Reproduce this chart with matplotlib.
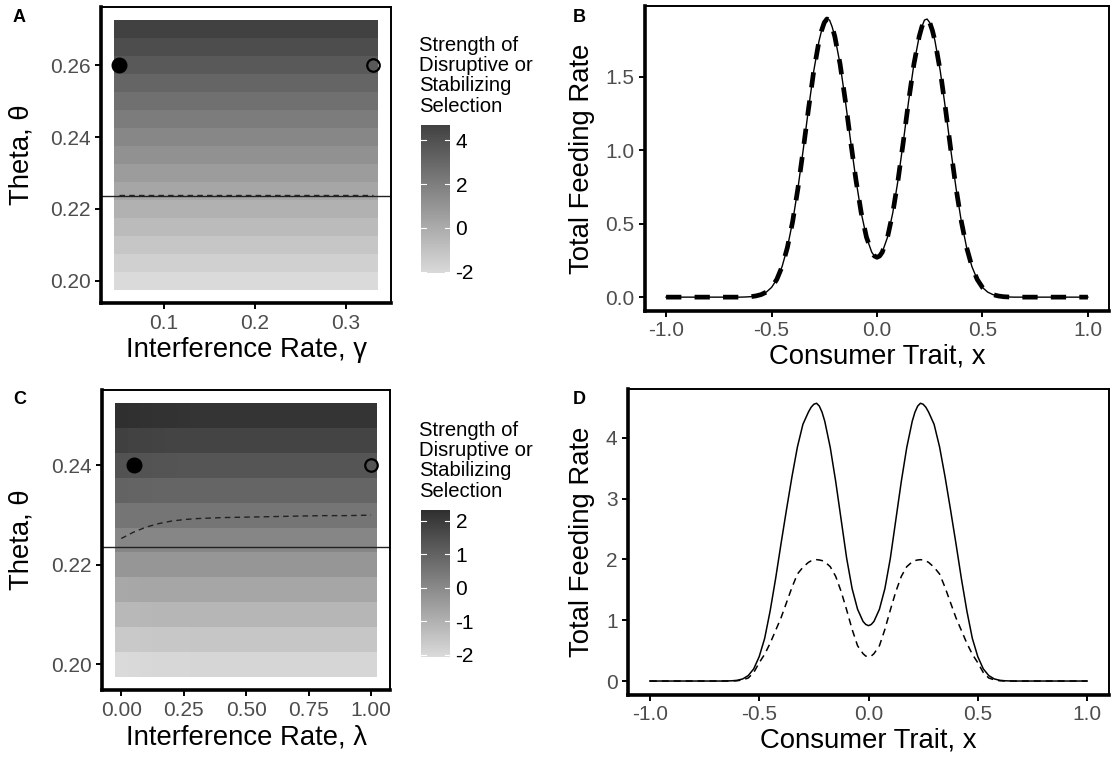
import numpy as np
import matplotlib
matplotlib.use("Agg")
import matplotlib.pyplot as plt
from matplotlib.colors import LinearSegmentedColormap

plt.rcParams['font.family'] = ['Liberation Sans', 'DejaVu Sans']
plt.rcParams['lines.scale_dashes'] = False
plt.rcParams['axes.unicode_minus'] = False

W, H = 1111, 757

# ---- panel A: strength of selection vs gamma / theta
gamma_a = np.round(np.arange(0.05, 0.3301, 0.01), 2)
theta_a = [0.200, 0.205, 0.210, 0.215, 0.220, 0.225, 0.230, 0.235,
           0.240, 0.245, 0.250, 0.255, 0.260, 0.265, 0.270]
strength_a = [-2.07, -1.61, -1.15, -0.69, -0.23, 0.22, 0.68, 1.15,
              1.62, 2.10, 2.60, 3.10, 3.62, 4.15, 4.69]
a_dash_gamma = [0.05, 0.10, 0.15, 0.20, 0.25, 0.30, 0.33]
a_dash_theta = [0.2239, 0.2239, 0.2239, 0.2239, 0.2239, 0.2239, 0.2239]
a_hline = 0.2235
a_points = [(0.05, 0.26), (0.33, 0.26)]

# ---- panel C: strength of selection vs lambda / theta
lambda_c = np.round(np.arange(0.0, 1.0001, 0.05), 2)
theta_c = [0.200, 0.205, 0.210, 0.215, 0.220, 0.225, 0.230, 0.235, 0.240, 0.245, 0.250]
strength_c = [-1.95, -1.54, -1.13, -0.72, -0.31, 0.10, 0.51, 0.93, 1.35, 1.77, 2.20]
# small extra contrast at low lambda
lambda_scale_c = [1.055, 1.04, 1.028, 1.018, 1.01, 1.005, 1.0, 1.0, 1.0, 1.0, 1.0,
                  1.0, 1.0, 1.0, 1.0, 1.0, 1.0, 1.0, 1.0, 1.0, 1.0]
c_dash_lambda = [0.0, 0.05, 0.10, 0.15, 0.20, 0.25, 0.30, 0.40, 0.50, 0.60, 0.70, 0.80, 0.90, 1.00]
c_dash_theta = [0.2253, 0.2266, 0.2276, 0.2283, 0.2288, 0.2291, 0.2293, 0.2295,
                0.2296, 0.2297, 0.2298, 0.2299, 0.2299, 0.2300]
c_hline = 0.2235
c_points = [(0.05, 0.24), (1.0, 0.24)]

# ---- panels B and D: total feeding rate vs consumer trait
trait_x = np.round(np.arange(-1.0, 1.0001, 0.025), 4)
feed_b = [0, 0, 0, 0, 0, 0, 0, 0, 0, 0, 0, 0, 0, 0, 0,
          0.001, 0.003, 0.008, 0.017, 0.034, 0.066, 0.121, 0.208, 0.337, 0.514,
          0.739, 1.001, 1.278, 1.538, 1.742, 1.868, 1.885, 1.773, 1.585, 1.335,
          1.060, 0.799, 0.575, 0.408, 0.306,
          0.271,
          0.306, 0.408, 0.575, 0.799, 1.060,
          1.335, 1.585, 1.773, 1.885, 1.868, 1.742, 1.538, 1.278, 1.001, 0.739,
          0.514, 0.337, 0.208, 0.121, 0.066, 0.034, 0.017, 0.008, 0.003, 0.001,
          0, 0, 0, 0, 0, 0, 0, 0, 0, 0, 0, 0, 0, 0, 0]
feed_d_solid = [0, 0, 0, 0, 0, 0, 0, 0, 0, 0, 0, 0, 0, 0,
                0.001, 0.004, 0.012, 0.035, 0.09, 0.20, 0.40, 0.70, 1.15, 1.68,
                2.26, 2.82, 3.36, 3.85, 4.22, 4.42, 4.55, 4.52, 4.27, 3.84,
                3.28, 2.65, 2.02, 1.52, 1.18, 0.98,
                0.91,
                0.98, 1.18, 1.52, 2.02, 2.65, 3.28,
                3.84, 4.27, 4.52, 4.55, 4.42, 4.22, 3.85, 3.36, 2.82, 2.26,
                1.68, 1.15, 0.70, 0.40, 0.20, 0.09, 0.035, 0.012, 0.004, 0.001,
                0, 0, 0, 0, 0, 0, 0, 0, 0, 0, 0, 0, 0, 0]
feed_d_dashed = [0, 0, 0, 0, 0, 0, 0, 0, 0, 0, 0, 0, 0, 0, 0, 0,
                 0.005, 0.02, 0.05, 0.14, 0.30, 0.44, 0.62, 0.83, 1.04, 1.29,
                 1.54, 1.76, 1.87, 1.95, 1.99, 1.99, 1.96, 1.88, 1.72, 1.47,
                 1.17, 0.85, 0.58, 0.45,
                 0.40,
                 0.45, 0.58, 0.85, 1.17, 1.47, 1.72, 1.88, 1.96, 1.99, 1.99,
                 1.95, 1.87, 1.76, 1.54, 1.29, 1.04, 0.83, 0.62, 0.44, 0.30,
                 0.14, 0.05, 0.02, 0.005,
                 0, 0, 0, 0, 0, 0, 0, 0, 0, 0, 0, 0, 0, 0, 0, 0]
# extra readings around the peaks and the dip
extra_x = [-0.2625, -0.2375, -0.2125, -0.0125, 0.0125, 0.2125, 0.2375, 0.2625]
extra_b = [1.815, 1.892, 1.838, 0.280, 0.280, 1.838, 1.892, 1.815]
extra_d_solid = [4.50, 4.566, 4.42, 0.93, 0.93, 4.42, 4.566, 4.50]
extra_d_dashed = [1.975, 1.995, 1.98, 0.41, 0.41, 1.98, 1.995, 1.975]

TICK_GREY = '#4d4d4d'
TICK_SIZE = 15


def merged(ys, extra_ys):
    xs = np.concatenate([trait_x, extra_x])
    vals = np.concatenate([ys, extra_ys])
    order = np.argsort(xs, kind='stable')
    return xs[order], vals[order]


fig = plt.figure(figsize=(W / 100, H / 100), dpi=100)


def px_axes(l, r, t, b):
    return fig.add_axes([l / W, 1 - b / H, (r - l) / W, (b - t) / H])


def style(ax):
    for s in ['left', 'bottom']:
        ax.spines[s].set_linewidth(2.6)
    for s in ['top', 'right']:
        ax.spines[s].set_linewidth(1.4)
    ax.tick_params(length=4.5, width=1.4, pad=3, labelsize=TICK_SIZE, labelcolor=TICK_GREY)


def heat_panel(ax, cax, xs, thetas, z, lo, hi, ticks):
    cmap = LinearSegmentedColormap.from_list('g', [lo, hi])
    pc = ax.pcolormesh(xs, thetas, z, shading='nearest', cmap=cmap,
                       vmin=z.min(), vmax=z.max(), edgecolors='none')
    cb = fig.colorbar(pc, cax=cax)
    cb.outline.set_visible(False)
    cb.set_ticks(ticks)
    cb.set_ticklabels([str(t) for t in ticks])
    cax.tick_params(length=0, labelsize=TICK_SIZE, pad=4, labelcolor='black')
    for t in ticks:
        cax.plot([0, 0.18], [t, t], color='white', lw=0.8)
        cax.plot([0.82, 1], [t, t], color='white', lw=0.8)
    return pc


# ---------- A
axA = px_axes(101, 390.7, 6.7, 303.3)
caxA = px_axes(420.7, 450, 125, 273.3)
zA = np.tile(np.array(strength_a)[:, None], (1, len(gamma_a)))
heat_panel(axA, caxA, gamma_a, theta_a, zA, '#dadada', '#414141', [-2, 0, 2, 4])
axA.axhline(a_hline, color='#222222', lw=1.0)
axA.plot(a_dash_gamma, a_dash_theta, color='#222222', lw=1.0, dashes=(4, 3))
axA.plot(*a_points[0], 'o', color='black', ms=10.5)
axA.plot(*a_points[1], 'o', mfc='none', mec='black', mew=1.6, ms=9)
axA.set_xlim(0.0305, 0.3495)
axA.set_ylim(0.19375, 0.27625)
axA.set_xticks([0.1, 0.2, 0.3])
axA.set_yticks([0.20, 0.22, 0.24, 0.26])
axA.set_yticklabels(['0.20', '0.22', '0.24', '0.26'])
style(axA)

# ---------- C
axC = px_axes(101.9, 390.4, 389.6, 690.4)
caxC = px_axes(420.7, 450, 510, 656.7)
zC = np.array(strength_c)[:, None] * np.array(lambda_scale_c)[None, :]
heat_panel(axC, caxC, lambda_c, theta_c, zC, '#dadada', '#2f2f2f', [-2, -1, 0, 1, 2])
axC.axhline(c_hline, color='#222222', lw=1.0)
axC.plot(c_dash_lambda, c_dash_theta, color='#222222', lw=1.0, dashes=(4, 3))
axC.plot(*c_points[0], 'o', color='black', ms=10.5)
axC.plot(*c_points[1], 'o', mfc='none', mec='black', mew=1.6, ms=9)
axC.set_xlim(-0.0775, 1.0775)
axC.set_ylim(0.19475, 0.25525)
axC.set_xticks([0, 0.25, 0.5, 0.75, 1.0])
axC.set_xticklabels(['0.00', '0.25', '0.50', '0.75', '1.00'])
axC.set_yticks([0.20, 0.22, 0.24])
axC.set_yticklabels(['0.20', '0.22', '0.24'])
style(axC)

# ---------- B
axB = px_axes(645, 1109, 6.2, 311)
xb, yb = merged(feed_b, extra_b)
axB.plot(xb, yb, color='black', lw=3.4, dashes=(11, 9.5))
axB.plot(xb, yb, color='black', lw=1.0)
axB.set_xlim(-1.1, 1.1)
axB.set_ylim(-0.0943, 1.9793)
axB.set_xticks([-1, -0.5, 0, 0.5, 1])
axB.set_xticklabels(['-1.0', '-0.5', '0.0', '0.5', '1.0'])
axB.set_yticks([0, 0.5, 1.0, 1.5])
axB.set_yticklabels(['0.0', '0.5', '1.0', '1.5'])
style(axB)

# ---------- D
axD = px_axes(628, 1109, 389.4, 694.9)
xs_, ys_ = merged(feed_d_solid, extra_d_solid)
xd_, yd_ = merged(feed_d_dashed, extra_d_dashed)
axD.plot(xs_, ys_, color='black', lw=1.1)
axD.plot(xd_, yd_, color='black', lw=1.1, dashes=(5, 3.6))
axD.set_xlim(-1.1, 1.1)
axD.set_ylim(-0.228, 4.794)
axD.set_xticks([-1, -0.5, 0, 0.5, 1])
axD.set_xticklabels(['-1.0', '-0.5', '0.0', '0.5', '1.0'])
axD.set_yticks([0, 1, 2, 3, 4])
style(axD)


# ---------- titles and labels (pixel positions)
def ftext(x, y, s, **kw):
    fig.text(x / W, 1 - y / H, s, **kw)


lab = dict(fontsize=19.8, ha='center', va='center')
ftext(22, 155, 'Theta, θ', rotation=90, **lab)
ftext(22, 540, 'Theta, θ', rotation=90, **lab)
ftext(246, 350, 'Interference Rate, γ', **lab)
ftext(246, 737, 'Interference Rate, λ', **lab)
ftext(582, 158.6, 'Total Feeding Rate', rotation=90, **lab)
ftext(582, 542, 'Total Feeding Rate', rotation=90, **lab)
ftext(877, 356.7, 'Consumer Trait, x', **lab)
ftext(868.5, 740.5, 'Consumer Trait, x', **lab)

leg_title = 'Strength of\nDisruptive or\nStabilizing\nSelection'
ftext(419, 36, leg_title, fontsize=14.6, ha='left', va='top', linespacing=1.08)
ftext(419, 421, leg_title, fontsize=14.6, ha='left', va='top', linespacing=1.08)

for x, y, s in [(13, 9, 'A'), (573, 9, 'B'), (13, 391, 'C'), (573, 391, 'D')]:
    ftext(x, y, s, fontsize=13, fontweight='bold', ha='left', va='top')

fig.savefig('out.png', dpi=100)
